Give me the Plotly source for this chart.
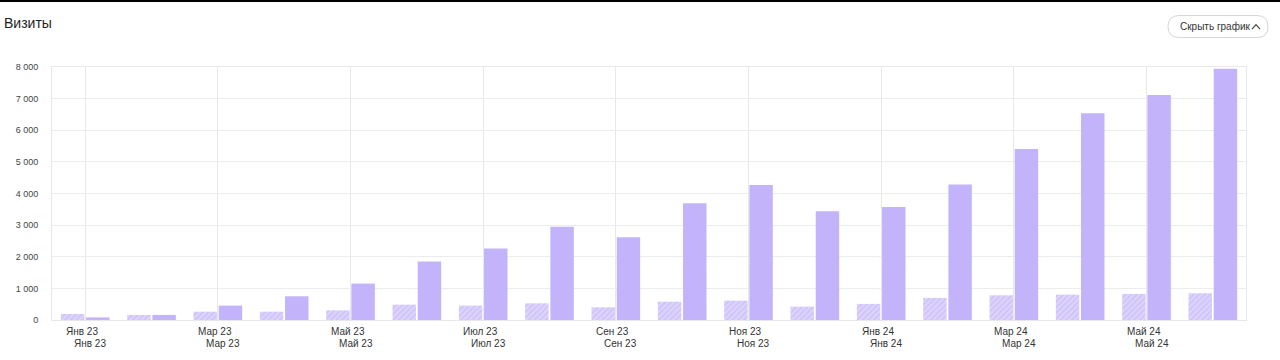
import plotly.graph_objects as go

months = ["Янв 23", "Фев 23", "Мар 23", "Апр 23", "Май 23", "Июн 23", "Июл 23", "Авг 23", "Сен 23",
          "Окт 23", "Ноя 23", "Дек 23", "Янв 24", "Фев 24", "Мар 24", "Апр 24", "Май 24", "Июн 24"]
visits_compare = [190, 160, 263, 263, 305, 485, 455, 527, 400, 580, 612, 422, 508, 698, 781, 803, 825, 845]
visits = [83, 160, 454, 750, 1152, 1850, 2263, 2950, 2620, 3690, 4265, 3440, 3575, 4285, 5405, 6540, 7117, 7946]
tick_labels = months[::2]
y_ticks = [0, 1000, 2000, 3000, 4000, 5000, 6000, 7000, 8000]
y_tick_text = ["0", "1 000", "2 000", "3 000", "4 000", "5 000", "6 000", "7 000", "8 000"]

W, H = 1280, 360
L, R, T, B = 52, 1246, 67, 320.3
FONT = "Liberation Sans, Arial, sans-serif"


def px(x):
    return (x - L) / (R - L)


def py(y):
    return (B - y) / (B - T)


fig = go.Figure()
fig.add_trace(go.Bar(
    x=months, y=visits_compare, name="Визиты (сравнение)",
    marker=dict(color="#ddd4fc", line=dict(width=0),
                pattern=dict(shape="/", fgcolor="#c0b0f8", bgcolor="#ddd4fc", size=4, solidity=0.45)),
))
fig.add_trace(go.Bar(
    x=months, y=visits, name="Визиты",
    marker=dict(color="#c2b3fa", line=dict(width=0)),
))

annotations = []
for m in tick_labels:
    annotations.append(dict(x=m, y=0, xref="x", yref="paper", text=m, showarrow=False,
                            yanchor="middle", xanchor="center", xshift=-3, yshift=-11,
                            font=dict(family=FONT, size=10, color="#333333")))
    annotations.append(dict(x=m, y=0, xref="x", yref="paper", text=m, showarrow=False,
                            yanchor="middle", xanchor="center", xshift=5, yshift=-23,
                            font=dict(family=FONT, size=10, color="#333333")))
annotations.append(dict(x=px(2), y=py(23), xref="paper", yref="paper", text="Визиты", showarrow=False,
                        xanchor="left", yanchor="middle", font=dict(family=FONT, size=14, color="#222222")))
annotations.append(dict(x=px(1178), y=py(26.5), xref="paper", yref="paper", text="Скрыть график",
                        showarrow=False, xanchor="left", yanchor="middle",
                        font=dict(family=FONT, size=10, color="#333333")))

# pill button
x0, x1, y0, y1, r = 1168, 1268, 15.5, 37.5, 11
pill = (f"M {px(x0 + r)},{py(y0)} L {px(x1 - r)},{py(y0)} "
        f"Q {px(x1)},{py(y0)} {px(x1)},{py(y0 + r)} "
        f"Q {px(x1)},{py(y1)} {px(x1 - r)},{py(y1)} "
        f"L {px(x0 + r)},{py(y1)} "
        f"Q {px(x0)},{py(y1)} {px(x0)},{py(y0 + r)} "
        f"Q {px(x0)},{py(y0)} {px(x0 + r)},{py(y0)} Z")
chev = f"M {px(1252)},{py(29)} L {px(1256)},{py(24.5)} L {px(1260)},{py(29)}"

shapes = [
    dict(type="path", xref="paper", yref="paper", path=pill,
         line=dict(color="#d6d6d6", width=1), fillcolor="white", layer="above"),
    dict(type="path", xref="paper", yref="paper", path=chev,
         line=dict(color="#444444", width=1.2), layer="above"),
    dict(type="line", xref="paper", yref="paper", x0=px(0), x1=px(1280), y0=py(0.8), y1=py(0.8),
         line=dict(color="#000000", width=2)),
]

fig.update_layout(
    width=W, height=H, autosize=False,
    margin=dict(l=L, r=W - R, t=T, b=H - B, pad=0),
    paper_bgcolor="white", plot_bgcolor="white",
    barmode="group", bargap=0.24, bargroupgap=0.07,
    showlegend=False,
    annotations=annotations, shapes=shapes,
    font=dict(family=FONT, size=10, color="#333333"),
    xaxis=dict(type="category", categoryorder="array", categoryarray=months,
               tickmode="array", tickvals=tick_labels, ticktext=tick_labels, showticklabels=False,
               showgrid=True, gridcolor="#e8e8e8", gridwidth=1,
               showline=True, linecolor="#e8e8e8", mirror=True, ticks=""),
    yaxis=dict(range=[0, 8000], tickmode="array", tickvals=y_ticks, ticktext=y_tick_text,
               showgrid=True, gridcolor="#ececec", gridwidth=1, zeroline=False,
               showline=True, linecolor="#e8e8e8", mirror=True, ticks="",
               tickfont=dict(family=FONT, size=9, color="#444444"), ticklabelstandoff=11),
)

fig.write_html("out.html", config={"displayModeBar": False},
               post_script="document.body.style.margin='0';")
